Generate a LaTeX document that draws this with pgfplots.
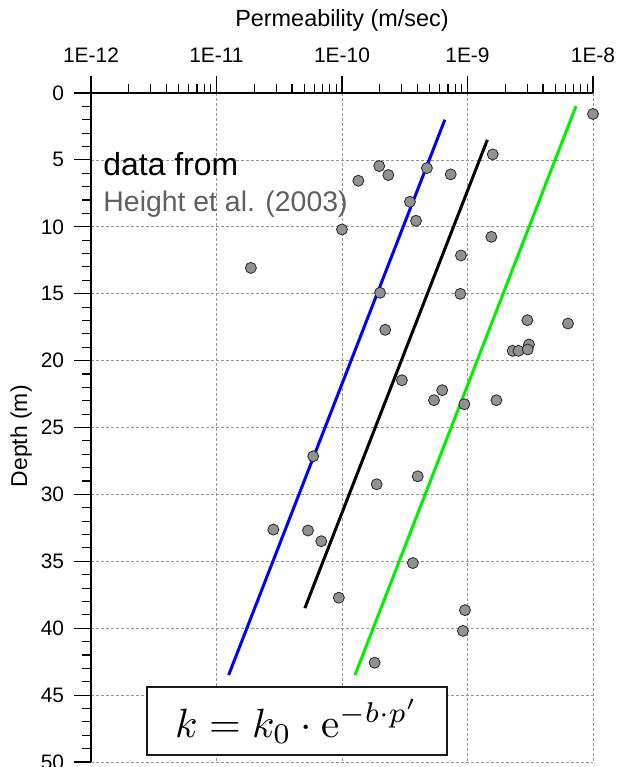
\documentclass[border=0pt]{standalone}
\usepackage{pgfplots}
\pgfplotsset{compat=1.18}
\usepackage[no-math]{fontspec}
\setmainfont{Liberation Sans}
\definecolor{markgray}{RGB}{145,145,145}
\definecolor{gridgray}{RGB}{150,150,150}
\definecolor{refgray}{RGB}{95,95,95}
\definecolor{lgreen}{RGB}{0,240,0}
\begin{document}
\begin{tikzpicture}
\begin{axis}[
  scale only axis, width=502bp, height=669bp,
  xmode=log, xmin=1e-12, xmax=1e-8,
  ymin=0, ymax=50, y dir=reverse,
  axis x line*=top, axis y line*=left,
  axis line style={line width=1.2bp, black},
  xtick={1e-12,1e-11,1e-10,1e-9,1e-8},
  xticklabels={1E-12,1E-11,1E-10,1E-9,1E-8},
  ytick={0,5,...,50}, minor y tick num=4,
  tick align=outside,
  major tick length=17bp, minor tick length=9bp,
  tick style={line width=1.1bp, black},
  /pgf/number format/assume math mode=true,
  ticklabel style={font=\fontsize{21}{24}\selectfont},
  xticklabel style={yshift=9.5bp},
  yticklabel style={xshift=-6.5bp},
  grid=major,
  major grid style={gridgray, line width=0.7bp, dash pattern=on 3bp off 2bp},
  clip=false,
]
\addplot[blue, line width=3bp] coordinates {(1.25e-11,43.5) (6.6e-10,2.0)};
\addplot[black, line width=3bp] coordinates {(5.06e-11,38.5) (1.44e-9,3.5)};
\addplot[lgreen, line width=3bp] coordinates {(1.27e-10,43.5) (7.33e-9,0.97)};
\addplot[only marks, mark=*, mark size=5.5bp,
  mark options={fill=markgray, draw=black!85, line width=0.8bp}]
  table {
x y
1e-8 1.57
1.59e-9 4.59
1.98e-10 5.46
2.34e-10 6.13
4.75e-10 5.61
7.35e-10 6.08
1.35e-10 6.56
3.48e-10 8.13
3.89e-10 9.55
1e-10 10.2
1.55e-9 10.75
8.87e-10 12.14
1.88e-11 13.07
2.01e-10 14.93
8.77e-10 15.01
3.0e-9 16.98
6.32e-9 17.23
2.21e-10 17.7
3.09e-9 18.8
2.29e-9 19.27
2.55e-9 19.27
3.02e-9 19.17
3.0e-10 21.47
6.29e-10 22.21
5.41e-10 22.96
9.44e-10 23.26
1.70e-9 22.96
5.9e-11 27.15
4.01e-10 28.65
1.89e-10 29.24
2.84e-11 32.63
5.36e-11 32.7
6.84e-11 33.5
3.67e-10 35.13
9.44e-11 37.72
9.55e-10 38.65
9.2e-10 40.2
1.82e-10 42.58
};
\node[anchor=base west, inner sep=0pt, font=\fontsize{32}{36}\selectfont]
  at (axis description cs:0.0245,0.8767) {data from};
\node[anchor=base west, inner sep=0pt, text=refgray, font=\fontsize{28.5}{33}\selectfont]
  at (axis description cs:0.0245,0.8225) {Height et al. (2003)};
\node[draw=black!90, line width=1.3bp, fill=white, minimum width=300bp, minimum height=68bp, inner sep=0pt]
  at (axis description cs:0.4104,0.0613) {\scalebox{4.1}{$k = k_0\cdot\mathrm{e}^{-b\cdot p'}$}};
\node[font=\fontsize{23.5}{27}\selectfont] at (axis description cs:0.5,1.109) {Permeability (m/sec)};
\node[rotate=90, font=\fontsize{23}{27}\selectfont] at (axis description cs:-0.139,0.487) {Depth (m)};
\end{axis}
\pgfresetboundingbox
\path[use as bounding box] (-91bp,-5bp) rectangle (527bp,762bp);
\end{tikzpicture}
\end{document}
